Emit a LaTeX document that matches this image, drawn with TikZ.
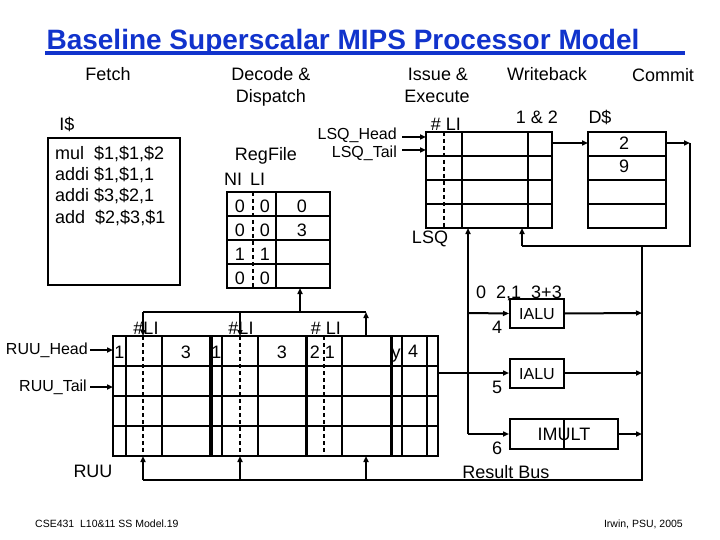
\documentclass[tikz,border=0pt]{standalone}
\usepackage{fontspec}
\setmainfont{Liberation Sans}
\usetikzlibrary{arrows.meta}
\definecolor{titleblue}{RGB}{17,51,204}
\tikzset{
  ln/.style={line width=2pt},
  thk/.style={line width=3.5pt},
  dsh/.style={line width=2pt, dash pattern=on 4pt off 3pt},
  arr/.style={line width=2pt, -{Triangle[length=6pt,width=5pt]}},
  box/.style={draw, line width=2pt, inner sep=0pt},
  lbl/.style={inner sep=0pt, anchor=base, font=\fontsize{18}{21}\selectfont},
  sml/.style={inner sep=0pt, anchor=base, font=\fontsize{16}{19}\selectfont},
  ftr/.style={inner sep=0pt, font=\fontsize{10.5}{12}\selectfont},
  ttl/.style={inner sep=0pt, anchor=base, text=titleblue, font=\fontsize{28}{32}\selectfont\bfseries},
}
\begin{document}
\begin{tikzpicture}[x=1pt,y=-1pt]
\useasboundingbox (0,0) rectangle (720,540);

% title
\node[ttl] (title) at (343,50) {Baseline Superscalar MIPS Processor Model};
\coordinate (ulL) at (45,53); \coordinate (ulR) at (685,53);
\draw[titleblue, line width=4pt] (ulL) -- (ulR);

% stage labels
\node[lbl] (fetch) at (108,81) {Fetch};
\node[lbl] (dec1) at (271,81) {Decode \&};
\node[lbl] (dec2) at (271,103) {Dispatch};
\node[lbl] (iss1) at (438,81) {Issue \&};
\node[lbl] (iss2) at (437,103) {Execute};
\node[lbl] (wb) at (547,81) {Writeback};
\node[lbl] (cm) at (663,82) {Commit};

% I$
\node[lbl] (ilabel) at (67,130.5) {I\$};
\draw[ln] (48,138) rectangle (180,285);
\node[lbl, anchor=base west] (i1) at (55,159.5) {mul\ \ \$1,\$1,\$2};
\node[lbl, anchor=base west] (i2) at (55,180.8) {addi \$1,\$1,1};
\node[lbl, anchor=base west] (i3) at (55,202) {addi \$3,\$2,1};
\node[lbl, anchor=base west] (i4) at (55,223.3) {add\ \ \$2,\$3,\$1};

% RegFile
\node[lbl] (rfl) at (266,160.5) {RegFile};
\node[lbl, anchor=base west] (nili) at (224,185.5) {NI\hspace{8pt}LI};
\draw[ln] (227,192) rectangle (330,288);
\foreach \y in {216,240,264} \draw[ln] (227,\y) -- (330,\y);
\draw[ln] (276,192) -- (276,288);
\draw[dsh] (253,192) -- (253,288);
\foreach \a/\b/\c/\y in {0/0/0/212.5, 0/0/3/236.5, 1/1//260.5, 0/0//284}{
  \node[lbl] at (240,\y) {\a};
  \node[lbl] at (265,\y) {\b};
  \node[lbl] at (302,\y) {\c};
}

% LSQ
\node[sml, anchor=base east] (lsqh) at (397,139.7) {LSQ\_Head};
\node[sml, anchor=base east] (lsqt) at (397,157.7) {LSQ\_Tail};
\draw[ln] (426,132) rectangle (552,228);
\foreach \y in {156,180,204} \draw[ln] (426,\y) -- (552,\y);
\foreach \x in {462,528} \draw[ln] (\x,132) -- (\x,228);
\draw[dsh] (444,132) -- (444,228);
\node[lbl] (lsqli) at (446,130.5) {\# LI};
\node[lbl] (lsql) at (430,243.5) {LSQ};
\draw[arr] (402,137) -- (426,137);
\draw[arr] (402,150) -- (426,150);
\node[lbl] (onetwo) at (537,123.5) {1 \& 2};

% D$
\node[lbl] (dl) at (600,123.5) {D\$};
\draw[ln] (588,132) rectangle (666,228);
\foreach \y in {156,180,204} \draw[ln] (588,\y) -- (666,\y);
\node[lbl] at (624,149.5) {2};
\node[lbl] at (624,172.5) {9};
\draw[arr] (552,143) -- (588,143);
\draw[arr] (666,143) -- (690,143);
\draw[ln] (690,143) -- (690,246) -- (522,246);
\draw[arr] (522,246) -- (522,228);

% RUU
\node[sml, anchor=base east] (ruuh) at (88,354.7) {RUU\_Head};
\node[sml, anchor=base east] (ruut) at (87,391.7) {RUU\_Tail};
\draw[arr] (90,350) -- (113,350);
\draw[arr] (90,387) -- (113,387);
\node[lbl] (ruul) at (93,477) {RUU};
\draw[ln] (113,336) rectangle (438,456);
\foreach \y in {366,396,426} \draw[ln] (113,\y) -- (438,\y);
\foreach \x in {126,162,222,258,342,402,427} \draw[ln] (\x,336) -- (\x,456);
\node[lbl] at (396,358) {y};
\foreach \x in {211,306.5,391.5} \draw[thk] (\x,336) -- (\x,456);
\foreach \x in {143,240,324} \draw[dsh] (\x,336) -- (\x,456);
\node[lbl] at (119.5,358) {1};
\node[lbl] at (186,358) {3};
\node[lbl] at (216.5,358) {1};
\node[lbl] at (282,358) {3};
\node[lbl] at (315,358) {2};
\node[lbl] at (330,358) {1};
\node[lbl] at (413,357) {4};
\node[lbl] (li1) at (146,334.5) {\#LI};
\node[lbl] (li2) at (241,334.5) {\#LI};
\node[lbl] (li3) at (326,334.5) {\# LI};

% top connector
\draw[ln] (143,312) -- (366,312);
\draw[arr] (143,312) -- (143,336);
\draw[arr] (240,312) -- (240,336);
\draw[arr] (300,312) -- (300,288);
\draw[arr] (366,336) -- (366,312);

% bottom / result bus
\draw[ln] (143,480) -- (642,480) -- (642,246);
\foreach \x in {143,240,366} \draw[arr] (\x,480) -- (\x,456);
\node[lbl] (rb) at (506,478.5) {Result Bus};

% function units
\node[box, minimum width=54pt, minimum height=29pt] (alu1) at (537,313.5) {};
\node[box, minimum width=54pt, minimum height=29pt] (alu2) at (537,373) {};
\node[box, minimum width=108pt, minimum height=30pt] (imult) at (564,434) {};
\draw[ln] (imult.north) -- (imult.south);
\node[sml] at (537,319) {IALU};
\node[sml] at (537,379) {IALU};
\node[lbl] at (564,440.5) {IMULT};
\node[lbl, anchor=base west] (ops) at (476,298) {0\ \ 2,1\ \ 3+3};
\node[lbl] at (497,333) {4};
\node[lbl] at (497,393) {5};
\node[lbl] at (497,454) {6};

\draw[arr] (468,434) -- (468,228);
\draw[arr] (468,313) -- (alu1.west);
\draw[arr] (468,434) -- (imult.west);
\draw[arr] (438,373) -- (alu2.west);
\draw[arr] (alu1.east) -- (642,313);
\draw[arr] (alu2.east) -- (642,373);
\draw[arr] (imult.east) -- (642,434);

% footer
\node[ftr, anchor=base west] (f1) at (35,527) {CSE431\ \ L10\&11 SS Model.19};
\node[ftr, anchor=base east] (f2) at (683,527) {Irwin, PSU, 2005};
\end{tikzpicture}
\end{document}
